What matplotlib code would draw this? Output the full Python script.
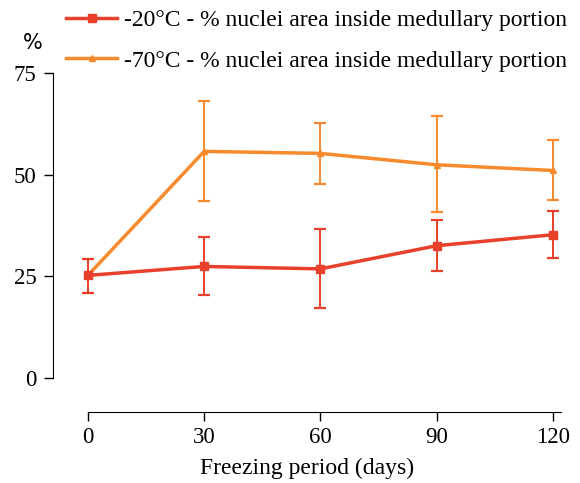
import numpy as np
import matplotlib.pyplot as plt
from matplotlib.lines import Line2D

plt.rcParams['font.family'] = ['Liberation Serif', 'DejaVu Serif']

days = [0, 30, 60, 90, 120]
minus20 = [25.2, 27.4, 26.8, 32.5, 35.2]
minus20_lo = [20.9, 20.3, 17.1, 26.2, 29.4]
minus20_hi = [29.3, 34.7, 36.7, 38.8, 41.1]
minus70 = [25.2, 55.7, 55.2, 52.4, 51.0]
minus70_lo = [20.9, 43.6, 47.6, 40.7, 43.7]
minus70_hi = [29.3, 68.0, 62.8, 64.4, 58.6]
yticks = [0, 25, 50, 75]
labels = ['-20°C - % nuclei area inside medullary portion',
          '-70°C - % nuclei area inside medullary portion']

red = '#e8402a'
orange = '#f68a2d'

fig = plt.figure(figsize=(5.8, 4.83), dpi=100)
ax = fig.add_axes([0.0914, 0.147, 0.8754, 0.729])

for y, lo, hi, col, mk, ms in [
        (minus70, minus70_lo, minus70_hi, orange, '^', 5),
        (minus20, minus20_lo, minus20_hi, red, 's', 6)]:
    y = np.array(y)
    err = [y - np.array(lo), np.array(hi) - y]
    ax.errorbar(days, y, yerr=err, color=col, lw=2.5, marker=mk, ms=ms,
                elinewidth=1.4, capsize=4, capthick=1.6)

ax.set_xlim(-9, 122)
ax.set_ylim(-8.4, 78.2)
ax.set_xticks(days)
ax.set_yticks(yticks)
ax.spines['top'].set_visible(False)
ax.spines['right'].set_visible(False)
ax.spines['left'].set_bounds(0, 75)
ax.spines['bottom'].set_bounds(0, 122)
ax.tick_params(labelsize=16.5, length=6.5, width=1)
ax.tick_params(axis='y', pad=5.5)
ax.tick_params(axis='x', pad=4)
ax.set_xlabel('Freezing period (days)', fontsize=17, labelpad=7.5)
fig.text(0.057, 0.912, '%', fontsize=15, ha='center', va='center',
         family='DejaVu Sans')

handles = [Line2D([], [], color=red, lw=2.5, marker='s', ms=6),
           Line2D([], [], color=orange, lw=2.5, marker='^', ms=5)]
fig.legend(handles, labels, loc='upper left', bbox_to_anchor=(0.078, 1.024),
           frameon=False, fontsize=17, handlelength=2.15, handletextpad=0.3,
           labelspacing=0.8)

fig.savefig('out.png', dpi=100)
